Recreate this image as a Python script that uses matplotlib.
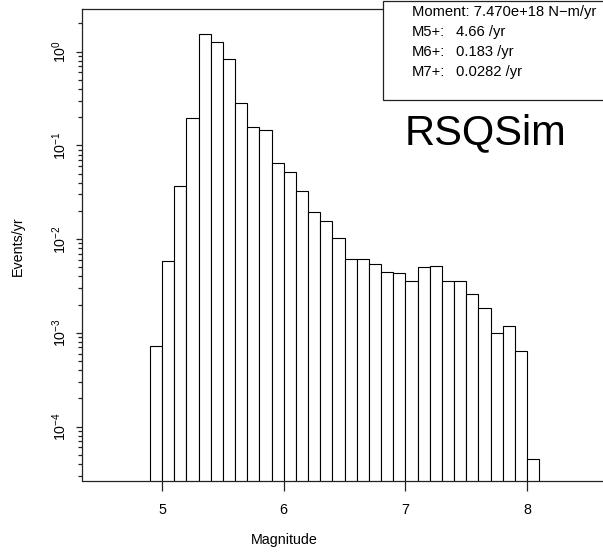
import numpy as np
import matplotlib
matplotlib.use("Agg")
import matplotlib.pyplot as plt
from matplotlib.ticker import FixedLocator, NullFormatter
from matplotlib.patches import Rectangle

plt.rcParams['font.family'] = ['Liberation Sans', 'DejaVu Sans']
plt.rcParams['mathtext.fontset'] = 'custom'
plt.rcParams['mathtext.rm'] = 'Liberation Sans'
plt.rcParams['mathtext.it'] = 'Liberation Sans'
plt.rcParams['mathtext.bf'] = 'Liberation Sans'

# ---- data ----
bin_left = [4.9, 5.0, 5.1, 5.2, 5.3, 5.4, 5.5, 5.6, 5.7, 5.8, 5.9,
            6.0, 6.1, 6.2, 6.3, 6.4, 6.5, 6.6, 6.7, 6.8, 6.9,
            7.0, 7.1, 7.2, 7.3, 7.4, 7.5, 7.6, 7.7, 7.8, 7.9, 8.0]
rates = [0.00073, 0.00585, 0.0372, 0.198, 1.556, 1.26, 0.829, 0.281, 0.157, 0.146, 0.0644,
         0.0516, 0.0324, 0.0194, 0.0155, 0.0102, 0.00615, 0.0062, 0.0054, 0.00443, 0.00433,
         0.00355, 0.00509, 0.00518, 0.00355, 0.00361, 0.0026, 0.00183, 0.00101, 0.00119, 0.000637,
         0.0000452]
bin_width = 0.1
x_ticks = [5, 6, 7, 8]
y_major = [1e-4, 1e-3, 1e-2, 1e-1, 1e0]
y_labels = [r'$10^{-4}$', r'$10^{-3}$', r'$10^{-2}$', r'$10^{-1}$', r'$10^{0}$']
legend_labels = ['M5+:', 'M6+:', 'M7+:']
legend_values = ['4.66 /yr', '0.183 /yr', '0.0282 /yr']
moment_text = 'Moment: 7.470e+18 N\u2212m/yr'
title_text = 'RSQSim'

W, H = 603, 556
fig = plt.figure(figsize=(W / 100, H / 100), dpi=100)

# axes geometry in pixels (axes extends past the right edge, as in reference)
ax_left_px, ax_right_px = 81.7, 640.0
ax_top_px, ax_bottom_px = 9.0, 480.5
ax = fig.add_axes([ax_left_px / W, 1 - ax_bottom_px / H,
                   (ax_right_px - ax_left_px) / W, (ax_bottom_px - ax_top_px) / H])

px_per_unit = 121.67
x0 = 5 - (162 - ax_left_px) / px_per_unit
x1 = 5 + (ax_right_px - 162) / px_per_unit
ax.set_xlim(x0, x1)
ax.set_yscale('log')
ax.set_ylim(10 ** -4.574, 10 ** 0.455)

ax.bar(bin_left, np.array(rates) - 1e-7, width=bin_width, bottom=1e-7, align='edge',
       facecolor='white', edgecolor='black', linewidth=0.8)

for s in ['left', 'bottom', 'top']:
    ax.spines[s].set_linewidth(0.9)
    ax.spines[s].set_color('#222222')
ax.spines['right'].set_visible(False)

ax.xaxis.set_major_locator(FixedLocator(x_ticks))
ax.set_xticklabels([str(v) for v in x_ticks])
ax.tick_params(axis='x', which='major', length=7, width=0.9, pad=9,
               labelsize=10.3, color='#222222')
ax.tick_params(axis='x', which='minor', length=0)

ax.yaxis.set_major_locator(FixedLocator(y_major))
ax.set_yticklabels(y_labels, rotation=90, va='center')
minors = [m * 10.0 ** e for e in range(-5, 1) for m in range(2, 10)]
ax.yaxis.set_minor_locator(FixedLocator(minors))
ax.yaxis.set_minor_formatter(NullFormatter())
ax.tick_params(axis='y', which='major', length=4, width=0.9, pad=5.5,
               labelsize=10.3, color='#222222')
ax.tick_params(axis='y', which='minor', length=3.2, width=0.9, color='#222222')

# axis titles
fig.text(284 / W, 1 - 540 / H, 'Magnitude', ha='center', va='center', fontsize=10.3)
fig.text(17.5 / W, 1 - 246 / H, 'Events/yr', ha='center', va='center',
         rotation=90, fontsize=10.3)

# legend box (top right)
box = Rectangle((383 / W, 1 - 100 / H), (W + 20 - 383) / W, (100 - 1) / H,
                transform=fig.transFigure, facecolor='white', edgecolor='#222222',
                linewidth=0.9, zorder=5)
fig.add_artist(box)
fs_leg = 10.6
fig.text(412 / W, 1 - 12.3 / H, moment_text, ha='left', va='center',
         fontsize=fs_leg, zorder=6)
for i, (lab, val) in enumerate(zip(legend_labels, legend_values)):
    yy = 1 - (32.3 + 20 * i) / H
    fig.text(412 / W, yy, lab, ha='left', va='center', fontsize=fs_leg, zorder=6)
    fig.text(456 / W, yy, val, ha='left', va='center', fontsize=fs_leg, zorder=6)

fig.text(485 / W, 1 - 133 / H, title_text, ha='center', va='center', fontsize=30)

fig.savefig('out.png', dpi=100, facecolor='white')
